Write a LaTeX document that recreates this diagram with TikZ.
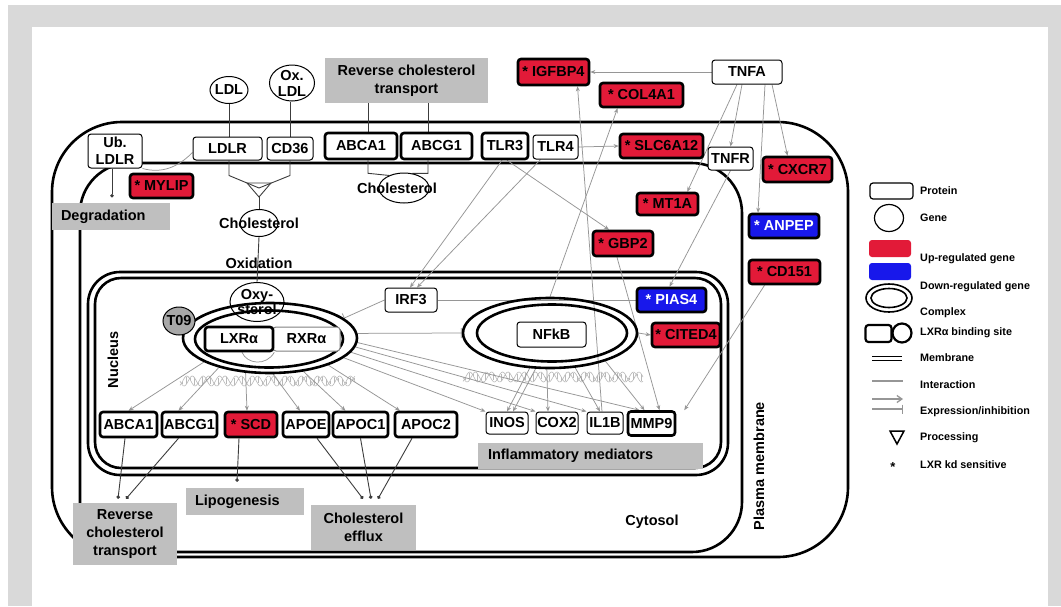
\documentclass[tikz,border=0pt]{standalone}
\usepackage{fontspec}
\setmainfont{Liberation Sans}
\usetikzlibrary{shapes.geometric,arrows.meta,calc}
\definecolor{bggray}{RGB}{217,217,217}
\definecolor{boxgray}{RGB}{191,191,191}
\definecolor{upred}{RGB}{226,26,56}
\definecolor{downblue}{RGB}{24,24,235}
\definecolor{congray}{RGB}{150,150,150}
\definecolor{dkgray}{RGB}{60,60,60}
\definecolor{t09gray}{RGB}{168,168,168}
\definecolor{helixgray}{RGB}{185,185,185}
\pgfdeclarelayer{back}
\pgfdeclarelayer{lines}
\pgfsetlayers{back,lines,main}
\begin{document}
\begin{tikzpicture}[x=1pt,y=-1pt,
 lab/.style={font=\bfseries\fontsize{14.5}{15}\selectfont, inner sep=0pt},
 pbox/.style={lab, draw, rounded corners=3pt, line width=1pt, fill=white, align=center},
 tbox/.style={pbox, line width=2.6pt},
 ubox/.style={tbox, fill=upred},
 dbox/.style={tbox, fill=downblue, text=white},
 gbox/.style={lab, fill=boxgray, align=center, font=\bfseries\fontsize{14.5}{18}\selectfont},
 gene/.style={draw, ellipse, line width=1pt, fill=white, inner sep=0pt},
 cplx/.style={draw, ellipse, line width=2.6pt, inner sep=0pt},
 con/.style={draw=congray, line width=0.75pt},
 arr/.style={con, -{Stealth[length=5pt,width=4pt]}},
 inh/.style={con, -{Bar[width=10pt]}},
 dk/.style={draw=dkgray, line width=0.9pt},
 dotend/.style={dk, -{Circle[length=3.5pt]}},
 leg/.style={font=\bfseries\fontsize{10.8}{12}\selectfont, inner sep=0pt, anchor=west},
 mem/.style={draw=black, line width=2.6pt}
]
\useasboundingbox (0,0) rectangle (1061,606);
\begin{pgfonlayer}{back}
\fill[bggray] (8,5) rectangle (1061,606);
\fill[white] (32,27) rectangle (1048,606);
% plasma membrane / cytosol
\draw[mem, rounded corners=70pt] (52,122) rectangle (848,557);
\draw[mem, rounded corners=50pt] (80,163) rectangle (742,552);
% nucleus
\draw[mem, rounded corners=32pt] (88,272) rectangle (728,475);
\draw[mem, rounded corners=26pt] (95,278) rectangle (721,468);
% DNA helices
\draw[helixgray, line width=0.6pt, domain=180:355, samples=160] plot (\x, {381+5*sin(22*(\x-180))});
\draw[helixgray, line width=0.6pt, domain=180:355, samples=160] plot (\x, {381+5*sin(22*(\x-180)+120)});
\foreach \xx in {182,186,...,354} \draw[helixgray, line width=0.4pt] (\xx, {381+4*sin(22*(\xx-180))}) -- (\xx, {381+4*sin(22*(\xx-180)+120)});
\draw[helixgray, line width=0.6pt, domain=463:643, samples=160] plot (\x, {377+5*sin(22*(\x-463))});
\draw[helixgray, line width=0.6pt, domain=463:643, samples=160] plot (\x, {377+5*sin(22*(\x-463)+120)});
\foreach \xx in {465,469,...,641} \draw[helixgray, line width=0.4pt] (\xx, {377+4*sin(22*(\xx-463))}) -- (\xx, {377+4*sin(22*(\xx-463)+120)});
\end{pgfonlayer}

% ---------- gray boxes ----------
\node[gbox, minimum width=163, minimum height=45] (rcttop) at (406.5,80.5) {Reverse cholesterol\\transport};
\node[gbox, minimum width=118, minimum height=27, text width=100, align=left] (degr) at (111,216.5) {Degradation};
\node[gbox, minimum width=118, minimum height=27, text width=100, align=left] (lipog) at (245,501.5) {Lipogenesis};
\node[gbox, minimum width=225, minimum height=26, text width=205, align=left] (inflam) at (590.5,456) {Inflammatory mediators};
\node[gbox, minimum width=104, minimum height=62] (rctbot) at (125,534) {Reverse\\cholesterol\\transport};
\node[gbox, minimum width=105, minimum height=45] (cheff) at (363.5,527.5) {Cholesterol\\efflux};

% ---------- genes (ellipses) ----------
\node[gene, minimum width=38, minimum height=27, label={[lab]center:LDL}] (ldl) at (229,90) {};
\node[gene, minimum width=45, minimum height=36, label={[lab, align=center, font=\bfseries\fontsize{14.5}{16}\selectfont]center:Ox.\\LDL}] (oxldl) at (292,83) {};
\node[gene, minimum width=38, minimum height=27, label={[lab]center:Cholesterol}] (chol1) at (259,223) {};
\node[gene, minimum width=50, minimum height=30, label={[lab, xshift=-7pt]center:Cholesterol}] (chol2) at (404,188) {};
\node[gene, minimum width=54, minimum height=39, label={[lab, align=center, font=\bfseries\fontsize{14.5}{15}\selectfont]center:Oxy-\\sterol}] (oxy) at (257,302) {};

% ---------- complexes ----------
\node[cplx, minimum width=174, minimum height=70] (lxrc) at (270,338) {};
\node[cplx, minimum width=148, minimum height=57] (lxrci) at (269,339) {};
\node[gene, fill=t09gray, minimum width=32, minimum height=28, label={[lab]center:T09}] (t09) at (179,321) {};
\node[pbox, draw=gray, minimum width=67, minimum height=24] (rxr) at (306.5,339) {RXRα};
\node[tbox, minimum width=68, minimum height=24] (lxr) at (239,339) {LXRα};
\node[cplx, minimum width=174, minimum height=70] (nfkbc) at (550,333) {};
\node[cplx, minimum width=150, minimum height=57] (nfkbci) at (552,333) {};
\node[pbox, minimum width=69, minimum height=25] (nfkb) at (551.5,334.5) {NFkB};

% ---------- membrane proteins ----------
\node[pbox, minimum width=54, minimum height=34, font=\bfseries\fontsize{14.5}{17}\selectfont] (ubldlr) at (115,151) {Ub.\\LDLR};
\node[pbox, minimum width=69, minimum height=23] (ldlr) at (227.5,148.5) {LDLR};
\node[pbox, minimum width=46, minimum height=23] (cd36) at (290,148.5) {CD36};
\node[tbox, minimum width=72, minimum height=26] (abca1t) at (361,146) {ABCA1};
\node[tbox, minimum width=71, minimum height=26] (abcg1t) at (436.5,146) {ABCG1};
\node[tbox, minimum width=46, minimum height=26] (tlr3) at (505,146) {TLR3};
\node[pbox, minimum width=45, minimum height=24] (tlr4) at (555.5,147) {TLR4};
\node[ubox, minimum width=63, minimum height=24] (mylip) at (161.5,186) {* MYLIP};

% ---------- right side ----------
\node[ubox, minimum width=71, minimum height=26] (igfbp4) at (553.5,72) {* IGFBP4};
\node[pbox, minimum width=70, minimum height=24] (tnfa) at (747,72) {TNFA};
\node[ubox, minimum width=83, minimum height=24] (col4a1) at (641.5,95) {* COL4A1};
\node[ubox, minimum width=83, minimum height=24] (slc6a12) at (661.5,146) {* SLC6A12};
\node[pbox, minimum width=45, minimum height=23] (tnfr) at (730.5,158.5) {TNFR};
\node[ubox, minimum width=69, minimum height=25] (cxcr7) at (797.5,169.5) {* CXCR7};
\node[ubox, minimum width=61, minimum height=22] (mt1a) at (667.5,204) {* MT1A};
\node[dbox, minimum width=70, minimum height=24] (anpep) at (784,226) {* ANPEP};
\node[ubox, minimum width=60, minimum height=25] (gbp2) at (623,243.5) {* GBP2};
\node[ubox, minimum width=71, minimum height=24] (cd151) at (784.5,272) {* CD151};
\node[dbox, minimum width=69, minimum height=24] (pias4) at (671.5,300) {* PIAS4};
\node[ubox, minimum width=68, minimum height=24] (cited4) at (686,335) {* CITED4};
\node[pbox, minimum width=52, minimum height=24] (irf3) at (411,300) {IRF3};

% ---------- nuclear target genes ----------
\node[tbox, minimum width=57, minimum height=25] (abca1) at (128.5,424.5) {ABCA1};
\node[tbox, minimum width=55, minimum height=25] (abcg1) at (189.5,424.5) {ABCG1};
\node[ubox, minimum width=52, minimum height=25] (scd) at (251,424.5) {* SCD};
\node[tbox, minimum width=46, minimum height=25] (apoe) at (306,424.5) {APOE};
\node[tbox, minimum width=55, minimum height=25] (apoc1) at (360.5,424.5) {APOC1};
\node[tbox, minimum width=62, minimum height=25] (apoc2) at (426,424.5) {APOC2};
\node[pbox, minimum width=42, minimum height=22] (inos) at (507,423) {INOS};
\node[pbox, minimum width=42, minimum height=22] (cox2) at (557,423) {COX2};
\node[pbox, minimum width=36, minimum height=22] (il1b) at (605,423) {IL1B};
\node[tbox, minimum width=47, minimum height=24] (mmp9) at (651.5,423.5) {MMP9};

% ---------- free labels ----------
\node[lab] (oxid) at (259,263) {Oxidation};
\node[lab] (cyto) at (652,522) {Cytosol};
\node[lab, rotate=90] (pm) at (759,466) {Plasma membrane};
\node[lab, rotate=90] (nuc) at (113,360) {Nucleus};
\coordinate (proc) at (259,188);

% ---------- connectors ----------
\begin{pgfonlayer}{lines}
\draw[dk] (ldl.south) -- (ldl.south |- ldlr.north);
\draw[dk] (ldl.south |- ldlr.south) -- ++(0,15) -- (proc);
\draw[dk] ([xshift=-2]oxldl.south) -- ([xshift=-2]oxldl.south |- cd36.north);
\draw[dk] ([xshift=-2]oxldl.south |- cd36.south) -- ++(0,15) -- (proc);
\draw[dk] ($(proc)+(-12,-5)$) -- ($(proc)+(12,-5)$) -- ($(proc)+(0,9)$) -- cycle;
\draw[dk] ($(proc)+(0,9)$) -- (chol1.north);
\draw[dk] (chol1.south) -- (oxy.north);
\draw[dk] ([xshift=7]abca1t.north) -- ([xshift=7]abca1t.north |- rcttop.south);
\draw[dk] ([xshift=-8.5]abcg1t.north) -- ([xshift=-8.5]abcg1t.north |- rcttop.south);
\draw[dk] ([xshift=7]abca1t.south) -- ++(0,13) -- (chol2.140);
\draw[dk] ([xshift=-8.5]abcg1t.south) -- ++(0,13) -- (chol2.60);
\draw[con] ([yshift=-4]ldlr.west) to[out=225,in=-15] (ubldlr.south east);
\draw[dotend] ([xshift=-3]ubldlr.south) -- ++(0,29);
% to gray boxes
\draw[dotend] ([xshift=-3.5]abca1.south) -- ([xshift=-7,yshift=4]rctbot.north);
\draw[dotend] ([xshift=-11]abcg1.south) -- ([xshift=1,yshift=4]rctbot.north);
\draw[dotend] ([xshift=-12]scd.south) -- ([xshift=-8,yshift=6]lipog.north);
\draw[dotend] ([xshift=11]apoe.south) -- ([xshift=-0.5,yshift=6]cheff.north);
\draw[dotend] (apoc1.south) -- ([xshift=7.5,yshift=6]cheff.north);
\draw[dotend] ([xshift=-14]apoc2.south) -- ([xshift=14.5,yshift=6]cheff.north);
% TNFA
\draw[arr] (tnfa.west) -- (igfbp4.east);
\draw[arr] ([xshift=-5]tnfa.south) -- (tnfr.north);
\draw[arr] ([xshift=-10]tnfa.south) -- ([xshift=-12]mt1a.north east);
\draw[arr] ([xshift=18]tnfa.south) -- ([xshift=-26]anpep.north);
\draw[arr] ([xshift=25]tnfa.south) -- ([xshift=-10]cxcr7.north);
\draw[arr] (tnfr.south) -- ([xshift=-2]pias4.north);
% TLRs
\draw[arr] (tlr4.east) -- (slc6a12.west);
\draw[arr] ([xshift=-3]tlr3.south) -- ([xshift=-1]irf3.north);
\draw[arr] ([xshift=-15]tlr4.south) -- ([xshift=6]irf3.north);
\draw[arr] ([xshift=2]tlr3.south) -- ([xshift=-14]gbp2.north);
% others
\draw[arr] ([xshift=-6]gbp2.south) -- ([xshift=8]mmp9.north);
\draw[arr] ([xshift=-20]cd151.south) -- ([xshift=8]mmp9.north east);
\draw[arr] ([xshift=-3]il1b.north) -- ([xshift=24]igfbp4.south);
\draw[arr] (nfkbc.north) -- ([xshift=-24]col4a1.south);
\draw[arr] (nfkbc.east) -- (cited4.west);
\draw[con] (irf3.east) -- (pias4.west);
\draw[inh] (irf3.west) -- (lxrc.15);
\draw[inh] (lxrc.3) -- (nfkbc.west);
\draw[con] ([xshift=3]lxr.south) .. controls +(5,12) and +(-8,14) .. (lxr.south east);
% LXR targets
\draw[arr] (lxrc.200) -- (abca1.north);
\draw[arr] (lxrc.210) -- ([xshift=-11]abcg1.north);
\draw[arr] (lxrc.235) -- ([xshift=-4]scd.north);
\draw[arr] (lxrc.275) -- ([xshift=-6]apoe.north);
\draw[arr] (lxrc.315) -- ([xshift=-15]apoc1.north);
\draw[arr] (lxrc.335) -- ([xshift=-26]apoc2.north);
\draw[arr] (lxrc.345) -- (inos.north west);
\draw[arr] (lxrc.350) -- (cox2.north west);
\draw[arr] (lxrc.354) -- (il1b.north west);
\draw[arr] (lxrc.357) -- ([xshift=-12]mmp9.north);
% NFkB targets
\draw[arr] (nfkbc.240) -- (inos.north);
\draw[arr] (nfkbc.248) -- ([xshift=6]inos.north);
\draw[arr] (nfkbc.265) -- ([xshift=-9]cox2.north);
\draw[arr] (nfkbc.306) -- ([xshift=-5]il1b.north);
\draw[arr] (nfkbc.333) -- ([xshift=-7]mmp9.north);
\end{pgfonlayer}

% ---------- legend ----------
\node[draw, rounded corners=3pt, line width=1.2pt, minimum width=43, minimum height=16, inner sep=0pt] (lgprot) at (891.5,191) {};
\node[leg] (lgprott) at (920,191) {Protein};
\node[draw, ellipse, line width=1.2pt, minimum width=29, minimum height=27, inner sep=0pt] (lggene) at (889,218) {};
\node[leg] (lggenet) at (920,218) {Gene};
\node[fill=upred, rounded corners=3pt, minimum width=42, minimum height=17, inner sep=0pt] (lgup) at (890,248.5) {};
\node[fill=downblue, rounded corners=3pt, minimum width=42, minimum height=17, inner sep=0pt] (lgdown) at (890,271.5) {};
\node[leg] (lgupt) at (920,259) {Up-regulated gene};
\node[leg] (lgdownt) at (920,287) {Down-regulated gene};
\node[draw, ellipse, line width=1.6pt, minimum width=46, minimum height=28, inner sep=0pt] (lgcx) at (889,298) {};
\node[draw, ellipse, line width=1.6pt, minimum width=36, minimum height=19, inner sep=0pt] (lgcxi) at (889,298) {};
\node[leg] (lgcxt) at (920,313) {Complex};
\node[draw, rounded corners=3pt, line width=2.2pt, minimum width=26, minimum height=17, inner sep=0pt] (lgbs) at (878.5,333.5) {};
\node[draw, circle, line width=2.2pt, minimum size=19, inner sep=0pt] (lgbc) at (902,333) {};
\node[leg] (lgbst) at (920,333) {LXRα binding site};
\draw[line width=1.3pt] (872,356.5) -- (902,356.5) (872,360.5) -- (902,360.5);
\node[leg] (lgmemt) at (920,358) {Membrane};
\draw[con, line width=1.3pt] (872,381) -- (903,381);
\node[leg] (lgintt) at (920,385) {Interaction};
\draw[con, line width=1.3pt, -{Straight Barb[length=5pt,width=7pt]}] (872,399) -- (903,399);
\draw[con, line width=1.3pt, -{Bar[width=9pt]}] (872,409) -- (903,409);
\node[leg] (lgexpt) at (920,412) {Expression/inhibition};
\draw[line width=1.5pt] (890,431) -- (904,431) -- (897,444) -- cycle;
\node[leg] (lgproct) at (920,438) {Processing};
\node[lab, font=\bfseries\fontsize{13}{13}\selectfont] (lgstar) at (893,467) {*};
\node[leg] (lgstart) at (920,465) {LXR kd sensitive};
\end{tikzpicture}
\end{document}
